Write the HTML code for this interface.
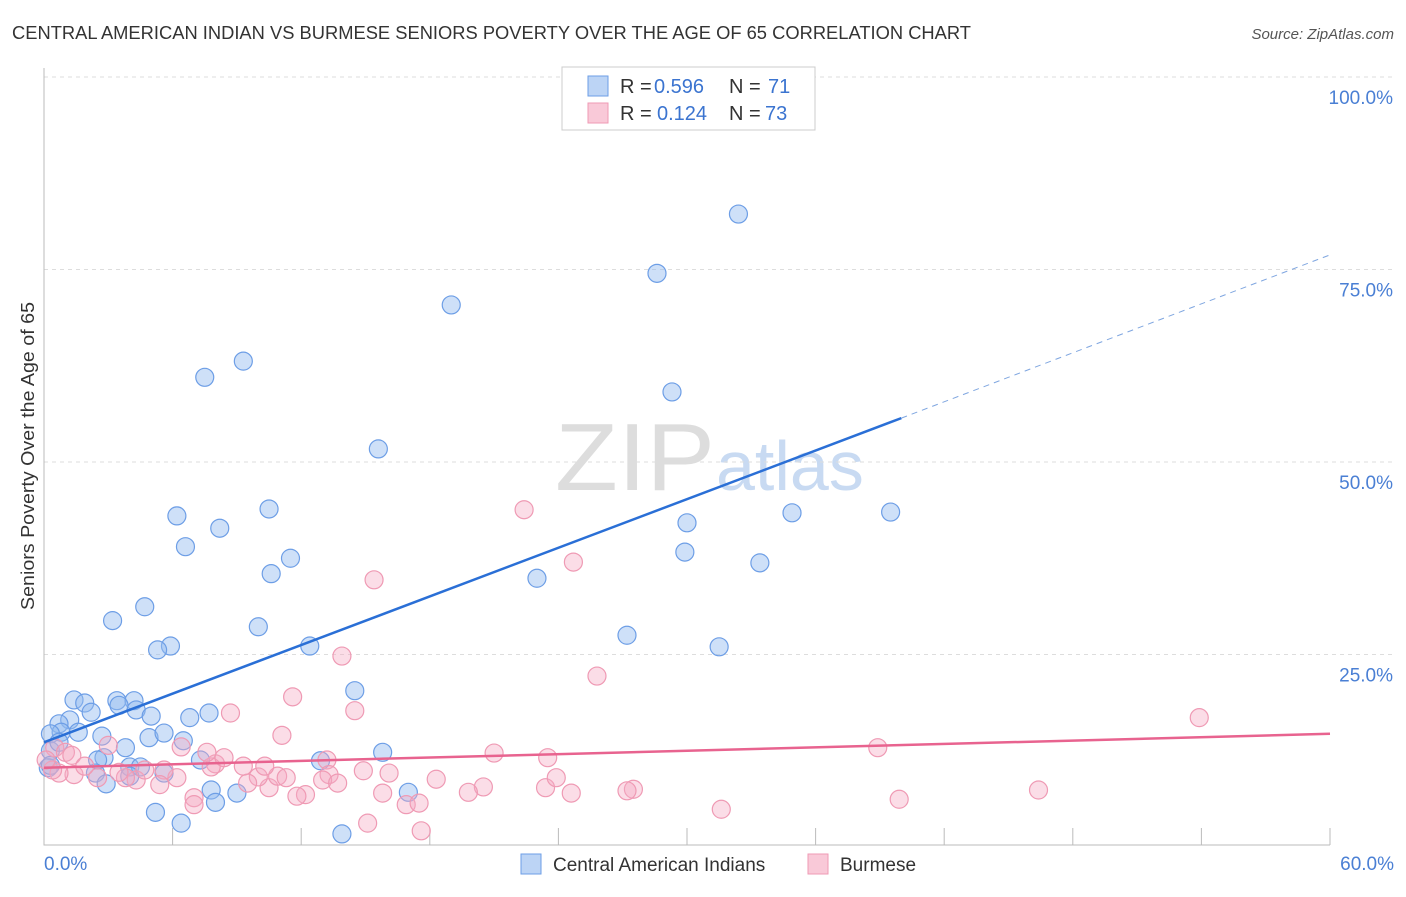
<!DOCTYPE html>
<html><head><meta charset="utf-8"><style>
body{margin:0;background:#fff;font-family:"Liberation Sans",sans-serif}
svg text{font-family:"Liberation Sans",sans-serif}
</style></head><body>
<svg id="c" width="1406" height="892">
<text x="12" y="39" font-size="18" fill="#333" textLength="959" lengthAdjust="spacingAndGlyphs">CENTRAL AMERICAN INDIAN VS BURMESE SENIORS POVERTY OVER THE AGE OF 65 CORRELATION CHART</text>
<text x="1394" y="39" font-size="15" fill="#555" font-style="italic" text-anchor="end">Source: ZipAtlas.com</text>
<text x="34" y="456" font-size="18" fill="#333" text-anchor="middle" textLength="308" lengthAdjust="spacingAndGlyphs" transform="rotate(-90 34 456)">Seniors Poverty Over the Age of 65</text>
<text x="555" y="490" font-size="96" fill="#ddd" textLength="160" lengthAdjust="spacingAndGlyphs" font-family="Liberation Serif">ZIP</text>
<text x="716" y="490" font-size="70" fill="#c8daf2">atlas</text>
<g id="grid"></g><g id="pts"></g><g id="lines"></g>
<g>
<rect x="562" y="67" width="253" height="63" fill="#fff" stroke="#ccc"/>
<rect x="588" y="76" width="20" height="20" fill="#bcd4f5" stroke="#6d9ee6"/>
<rect x="588" y="103" width="20" height="20" fill="#f9c9d8" stroke="#ef9ab4"/>
<text x="620" y="93" font-size="20" fill="#333">R =</text><text x="654" y="93" font-size="20" fill="#3b74d0">0.596</text>
<text x="729" y="93" font-size="20" fill="#333">N =</text><text x="768" y="93" font-size="20" fill="#3b74d0">71</text>
<text x="620" y="120" font-size="20" fill="#333">R =</text><text x="657" y="120" font-size="20" fill="#3b74d0">0.124</text>
<text x="729" y="120" font-size="20" fill="#333">N =</text><text x="765" y="120" font-size="20" fill="#3b74d0">73</text>
</g>
<g>
<rect x="521" y="854" width="20" height="20" fill="#bcd4f5" stroke="#6d9ee6"/>
<text x="553" y="871" font-size="19" fill="#333">Central American Indians</text>
<rect x="808" y="854" width="20" height="20" fill="#f9c9d8" stroke="#ef9ab4"/>
<text x="840" y="871" font-size="19" fill="#333">Burmese</text>
</g>
<text x="44" y="870" font-size="19" fill="#4a7fd4">0.0%</text>
<text x="1394" y="870" font-size="19" fill="#4a7fd4" text-anchor="end">60.0%</text>
</svg>
<script>
const blueX=[32.4,28.6,19.0,9.3,7.5,29.3,15.6,6.2,10.5,8.2,6.6,30.0,34.9,39.5,29.9,11.5,10.6,23.0,33.4,4.7,3.2,10.0,27.2,5.9,5.3,12.4,31.5,14.5,1.4,1.9,3.4,4.2,3.5,4.3,2.2,5.0,7.7,6.8,1.2,0.7,0.8,1.6,0.3,2.7,4.9,5.6,6.5,3.8,15.8,12.9,2.8,2.5,7.3,4.0,4.5,0.3,0.2,2.4,4.0,5.6,2.9,7.8,9.0,17.0,8.0,5.2,6.4,13.9,0.3,0.7];
const blueY=[82.2,74.5,70.4,63.1,61.0,59.1,51.7,43.0,43.9,41.4,39.0,42.1,43.4,43.5,38.3,37.5,35.5,34.9,36.9,31.2,29.4,28.6,27.5,26.1,25.6,26.1,26.0,20.3,19.1,18.7,19.0,19.0,18.4,17.8,17.5,17.0,17.4,16.8,16.5,16.0,14.9,14.9,14.7,14.4,14.2,14.8,13.8,12.9,12.3,11.2,11.6,11.3,11.3,10.4,10.4,12.5,10.3,9.6,9.2,9.6,8.2,7.4,7.0,7.1,5.8,4.5,3.1,1.7,10.6,13.6];
const pinkX=[22.4,24.7,15.4,13.9,25.8,11.6,14.5,8.7,11.1,18.3,15.1,17.6,15.8,16.9,17.5,53.9,38.9,21.0,23.5,46.4,39.9,31.6,27.5,27.2,24.6,23.4,23.9,20.5,19.8,16.1,14.9,13.2,13.3,13.0,13.7,12.2,11.8,10.5,10.9,11.3,10.0,9.5,9.3,8.0,7.8,7.6,8.4,7.0,6.4,6.2,5.6,5.4,4.3,3.8,3.0,3.5,2.5,1.4,0.7,0.4,0.5,1.0,0.1,1.3,1.9,7.0,4.7,10.3];
const pinkY=[43.8,37.0,34.7,24.8,22.2,19.5,17.7,17.4,14.5,8.8,3.1,2.1,7.0,5.5,5.7,16.8,12.9,12.2,11.6,7.4,6.2,4.9,7.5,7.3,7.0,7.7,9.0,7.8,7.1,9.6,9.9,11.3,9.4,8.7,8.3,6.8,6.6,7.7,9.2,9.0,9.1,8.3,10.5,10.8,10.4,12.3,11.6,6.4,13.0,9.0,10.0,8.1,8.7,9.0,13.2,9.7,9.0,9.4,9.6,10.0,12.9,12.3,11.3,11.9,10.5,5.5,10.0,10.5];
const blueTrend=[13.6,55.7,76.9]; // at x=0, 40, 60
const pinkTrend=[10.3,14.7];      // at x=0, 60
const yTicks=[25,50,75,100];
const xTicks=[0,6,12,18,24,30,36,42,48,54,60];
const sx=v=>44+v/60*1286, sy=v=>847-v/100*770;
const NS='http://www.w3.org/2000/svg';
function mk(tag,attrs,parent){const e=document.createElementNS(NS,tag);for(const k in attrs)e.setAttribute(k,attrs[k]);parent.appendChild(e);return e;}
const grid=document.getElementById('grid'),pts=document.getElementById('pts'),lines=document.getElementById('lines');
yTicks.forEach(t=>{
 const l=mk('line',{x1:44,x2:1394,y1:sy(t),y2:sy(t),stroke:'#ddd','stroke-dasharray':'4,4'},grid);
 
 
 const tx=mk('text',{x:1393,y:sy(t)+27,'font-size':19,fill:'#4a7fd4','text-anchor':'end'},grid);
 tx.textContent=t.toFixed(1)+'%';
 
 
});
const ax=mk('path',{d:'M44 68V845H1330',stroke:'#bbb',fill:'none'},grid);


xTicks.slice(1).forEach(t=>{
 const l=mk('line',{x1:sx(t),x2:sx(t),y1:828,y2:845,stroke:'#bbb'},grid);
 
 
});
blueX.forEach((v,i)=>{
 const c=mk('circle',{cx:sx(v),cy:sy(blueY[i]),r:9,fill:'rgba(147,187,240,0.45)',stroke:'#6d9ee6','stroke-width':1.2},pts);
 
 
});
pinkX.forEach((v,i)=>{
 const c=mk('circle',{cx:sx(v),cy:sy(pinkY[i]),r:9,fill:'rgba(246,170,195,0.4)',stroke:'#ef9ab4','stroke-width':1.2},pts);
 
 
});
let l=mk('line',{x1:sx(0),y1:sy(blueTrend[0]),x2:sx(40),y2:sy(blueTrend[1]),stroke:'#2a6fd6','stroke-width':2.5},lines);


l=mk('line',{x1:sx(40),y1:sy(blueTrend[1]),x2:sx(60),y2:sy(blueTrend[2]),stroke:'#7fa6e0','stroke-width':1,'stroke-dasharray':'6,5'},lines);


l=mk('line',{x1:sx(0),y1:sy(pinkTrend[0]),x2:sx(60),y2:sy(pinkTrend[1]),stroke:'#e8638f','stroke-width':2.5},lines);


</script>
</body></html>
